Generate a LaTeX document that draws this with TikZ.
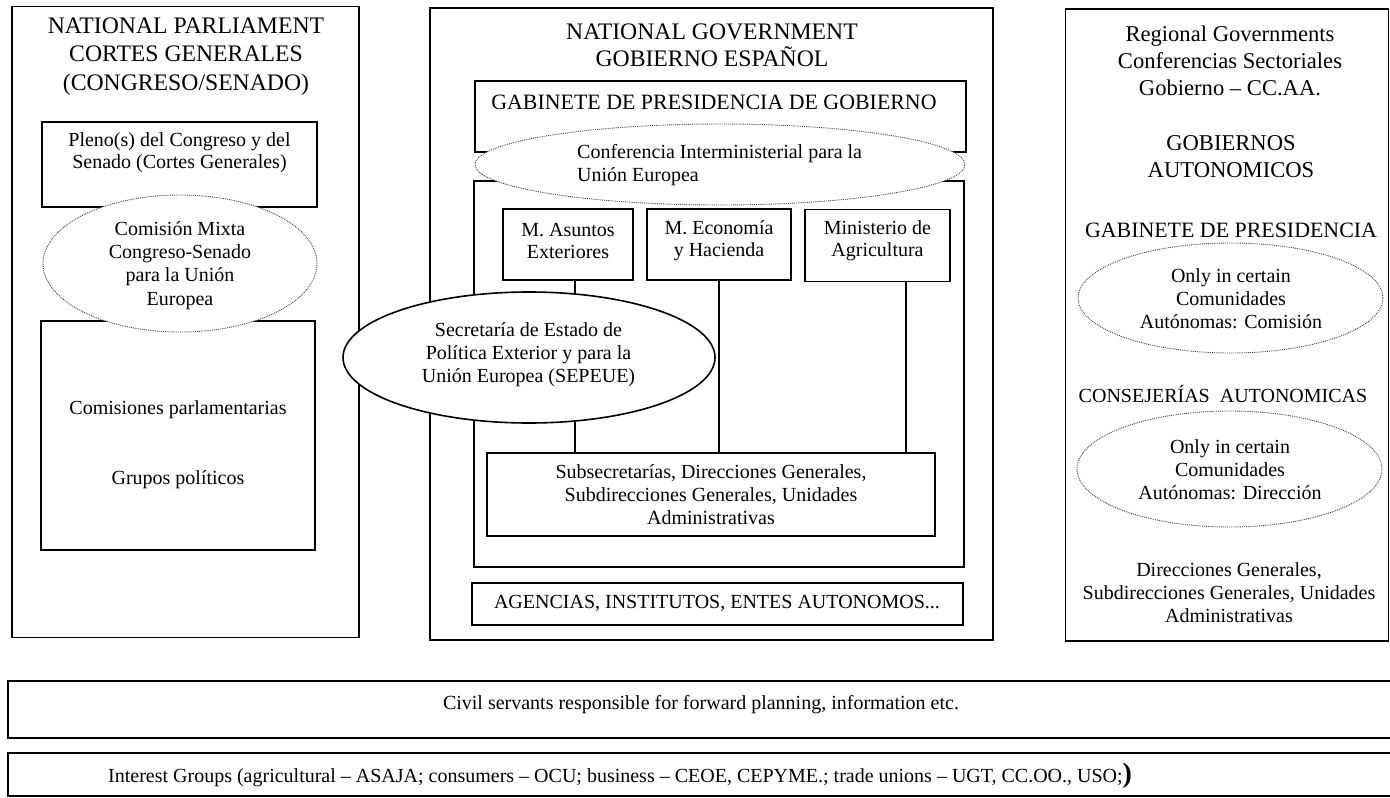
\documentclass[tikz,border=0pt]{standalone}
\usepackage{fontspec}
\setmainfont{Liberation Serif}
\usetikzlibrary{shapes.geometric}
\begin{document}
\begin{tikzpicture}[x=1pt,y=-1pt,
  box/.style={draw, rectangle, line width=1.5pt, inner sep=0pt},
  dotell/.style={draw=black!75, ellipse, densely dotted, line width=0.9pt, fill=white, inner sep=0pt},
  solell/.style={draw, ellipse, line width=1.6pt, fill=white, inner sep=0pt},
  link/.style={draw, line width=1.3pt},
  band/.style={line width=1.5pt},
  htext/.style={font=\fontsize{23.7pt}{28.3pt}\selectfont, align=center, inner sep=0pt},
  rtext/.style={font=\fontsize{22.6pt}{27.3pt}\selectfont, align=center, inner sep=0pt},
  btext/.style={font=\fontsize{20pt}{23pt}\selectfont, align=center, inner sep=0pt}]
\useasboundingbox (0,0) rectangle (1390,798);
\fill[white] (0,0) rectangle (1390,798);

% ---------- outer columns ----------
\node[box, minimum width=347pt, minimum height=631pt] (parl) at (185.5,322) {};
\node[box, minimum width=563pt, minimum height=632pt] (gov) at (711.5,324) {};
\node[box, minimum width=323pt, minimum height=632pt] (reg) at (1227,325) {};

% ---------- parliament ----------
\node[box, minimum width=275pt, minimum height=85pt] (pleno) at (179.5,164.5) {};
\node[box, minimum width=274pt, minimum height=229pt] (comis) at (178,435.5) {};

% ---------- government ----------
\node[box, minimum width=491pt, minimum height=71pt] (gab) at (720.5,116.5) {};
\node[box, minimum width=490pt, minimum height=386pt] (inner) at (719,374) {};
\node[box, minimum width=130pt, minimum height=71pt] (asuntos) at (568,244.5) {};
\node[box, minimum width=144pt, minimum height=71pt] (econ) at (719,244.5) {};
\node[box, minimum width=145pt, minimum height=72pt] (agri) at (877.5,245.5) {};
\node[box, minimum width=448pt, minimum height=83pt] (subsec) at (711,494.5) {};
\node[box, minimum width=491pt, minimum height=42pt] (agen) at (717.5,604) {};

\coordinate (xa) at (575,0);
\coordinate (xe) at (719,0);
\coordinate (xg) at (906,0);
\draw[link] (asuntos.south -| xa) -- (subsec.north -| xa);
\draw[link] (econ.south -| xe) -- (subsec.north -| xe);
\draw[link] (agri.south -| xg) -- (subsec.north -| xg);

% ---------- ellipses ----------
\node[dotell, minimum width=274pt, minimum height=137pt] (mixta) at (180,263.5) {};
\node[dotell, minimum width=490pt, minimum height=81pt] (conf) at (720,164.5) {};
\node[solell, minimum width=372pt, minimum height=131pt] (sepeue) at (529,357.5) {};
\node[dotell, minimum width=305pt, minimum height=110pt] (ellA) at (1230.5,298) {};
\node[dotell, minimum width=305pt, minimum height=116pt] (ellB) at (1229.5,469) {};

% ---------- texts ----------
\node[htext] (parlT) at (186,56.5) {NATIONAL PARLIAMENT\\CORTES GENERALES\\(CONGRESO/SENADO)};
\node[btext, font=\fontsize{20pt}{21.5pt}\selectfont] (plenoT) at (179.5,152.5) {Pleno(s) del Congreso y del\\Senado (Cortes Generales)};
\node[btext, font=\fontsize{20pt}{23.3pt}\selectfont] (mixtaT) at (180,265.5) {Comisión Mixta\\Congreso-Senado\\para la Unión\\Europea};
\node[btext] (comisT1) at (178,410) {Comisiones parlamentarias};
\node[btext] (comisT2) at (178,480) {Grupos políticos};

\node[htext, font=\fontsize{23.7pt}{26.7pt}\selectfont] (govT) at (712,45) {NATIONAL GOVERNMENT\\GOBIERNO ESPAÑOL};
\node[btext, font=\fontsize{21.9pt}{24pt}\selectfont] (gabT) at (714,102) {GABINETE DE PRESIDENCIA DE GOBIERNO};
\node[btext, align=left, anchor=west] (confT) at (577,165.5) {Conferencia Interministerial para la\\Unión Europea};
\node[btext, font=\fontsize{20pt}{22pt}\selectfont] (asuntosT) at (568,241) {M. Asuntos\\Exteriores};
\node[btext, font=\fontsize{20pt}{22pt}\selectfont] (econT) at (719,241) {M. Economía\\y Hacienda};
\node[btext, font=\fontsize{20pt}{22pt}\selectfont] (agriT) at (877.5,241) {Ministerio de\\Agricultura};
\node[btext] (sepeueT) at (528.5,354.5) {Secretaría de Estado de\\Política Exterior y para la\\Unión Europea (SEPEUE)};
\node[btext] (subsecT) at (711,495) {Subsecretarías, Direcciones Generales,\\Subdirecciones Generales, Unidades\\Administrativas};
\node[btext] (agenT) at (717,603) {AGENCIAS, INSTITUTOS, ENTES AUTONOMOS...};

\node[rtext] (regT) at (1230,61) {Regional Governments\\Conferencias Sectoriales\\Gobierno – CC.AA.};
\node[rtext, font=\fontsize{22.6pt}{27pt}\selectfont] (gobT) at (1231,156.5) {GOBIERNOS\\AUTONOMICOS};
\node[btext, font=\fontsize{21.9pt}{24pt}\selectfont] (gabRT) at (1231,230) {GABINETE DE PRESIDENCIA};
\node[btext] (ellAT) at (1231,298.5) {Only in certain\\Comunidades\\Autónomas: Comisión};
\node[btext] (consT) at (1223,394) {CONSEJERÍAS\ \ AUTONOMICAS};
\node[btext] (ellBT) at (1230,469.5) {Only in certain\\Comunidades\\Autónomas: Dirección};
\node[btext] (dirT) at (1229,592.5) {Direcciones Generales,\\Subdirecciones Generales, Unidades\\Administrativas};

% ---------- bottom bands ----------
\coordinate (civTR) at (1390,681);
\coordinate (civBR) at (1390,738);
\coordinate (intTR) at (1390,753);
\coordinate (intBR) at (1390,796);
\draw[band] (civTR) -- (8,681) -- (8,738) -- (civBR);
\draw[band] (intTR) -- (8,753) -- (8,796) -- (intBR);
\node[btext] (civT) at (701,705) {Civil servants responsible for forward planning, information etc.};
\node[btext, anchor=west] (intT) at (108,776) {Interest Groups (agricultural – ASAJA; consumers – OCU; business – CEOE, CEPYME.; trade unions – UGT, CC.OO., USO;{\fontsize{28pt}{28pt}\selectfont\bfseries )}};
\end{tikzpicture}
\end{document}
